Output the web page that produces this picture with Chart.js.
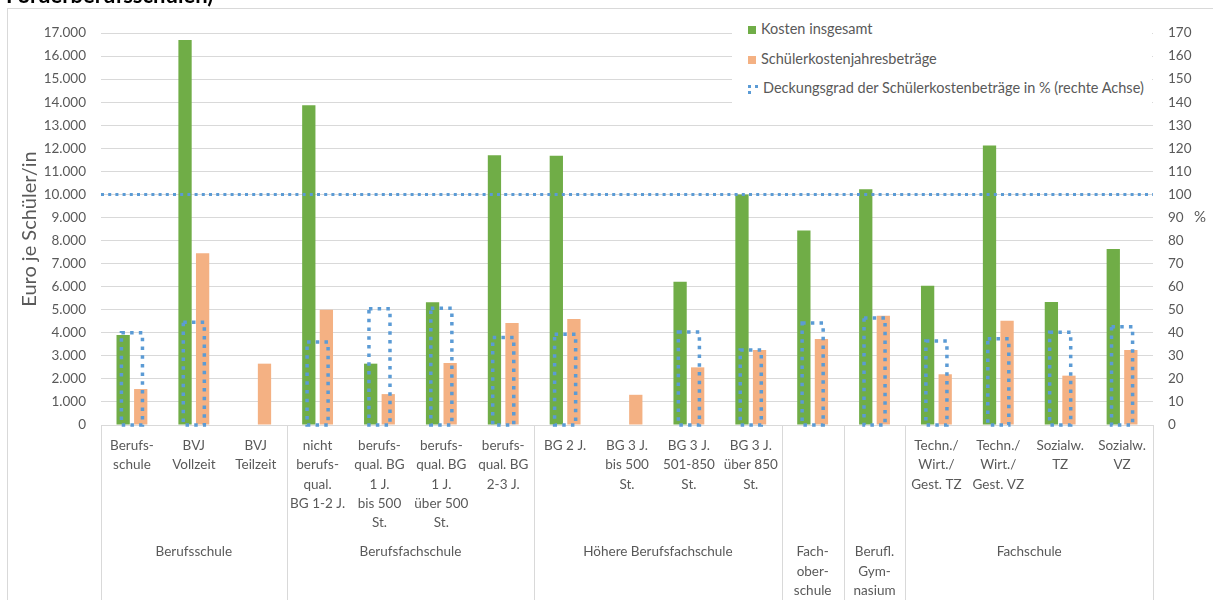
<!DOCTYPE html>
<html lang="de">
<head>
<meta charset="utf-8">
<title>Kosten je Schüler/in</title>
<script src="https://cdn.jsdelivr.net/npm/chart.js@4.4.1/dist/chart.umd.min.js"></script>
<style>
  html, body { margin: 0; padding: 0; background: #fff; overflow: hidden; }
  #wrap { position: relative; width: 1213px; height: 600px; overflow: hidden; }
  #frame { position: absolute; left: 7px; top: 8px; width: 1300px; height: 700px;
           border-left: 1px solid #d9d9d9; border-top: 1px solid #d9d9d9; }
  #chart { position: absolute; left: 0; top: 0; }
  #legend { position: absolute; left: 732px; top: 14px; width: 420px; height: 98px;
            background: #fff; font: 14.5px Lato, sans-serif; color: #595959; }
  .leg-row { position: absolute; left: 16px; height: 18px; line-height: 18px; white-space: nowrap; }
  .leg-box { display: inline-block; width: 8px; height: 8px; margin-right: 5px; vertical-align: 0; }
  .leg-dots { display: inline-block; width: 7px; height: 6px; margin-right: 5px;
              border-top: 3px dotted #5b9bd5; border-left: 3px dotted #5b9bd5; vertical-align: -1px; }
</style>
</head>
<body>
<div id="wrap">
  <div id="frame"></div>
  <canvas id="chart" width="1213" height="640"></canvas>
  <div id="legend">
    <div class="leg-row" style="top:6px"><span class="leg-box" style="background:#70ad47"></span>Kosten insgesamt</div>
    <div class="leg-row" style="top:36px"><span class="leg-box" style="background:#f4b183"></span>Schülerkostenjahresbeträge</div>
    <div class="leg-row" style="top:65px"><span class="leg-dots"></span>Deckungsgrad der Schülerkostenbeträge in % (rechte Achse)</div>
  </div>
</div>

<script>
// ── DATA ───────────────────────────────────────────────────────
const categories = [
  ['Berufs-', 'schule'], ['BVJ', 'Vollzeit'], ['BVJ', 'Teilzeit'],
  ['nicht', 'berufs-', 'qual.', 'BG 1-2 J.'],
  ['berufs-', 'qual. BG', '1 J.', 'bis 500', 'St.'],
  ['berufs-', 'qual. BG', '1 J.', 'über 500', 'St.'],
  ['berufs-', 'qual. BG', '2-3 J.'],
  ['BG 2 J.'], ['BG 3 J.', 'bis 500', 'St.'], ['BG 3 J.', '501-850', 'St.'], ['BG 3 J.', 'über 850', 'St.'],
  [''], [''],
  ['Techn./', 'Wirt./', 'Gest. TZ'], ['Techn./', 'Wirt./', 'Gest. VZ'], ['Sozialw.', 'TZ'], ['Sozialw.', 'VZ'],
];
const groupLabels = [
  ['Berufsschule'], ['Berufsfachschule'], ['Höhere Berufsfachschule'],
  ['Fach-', 'ober-', 'schule'], ['Berufl.', 'Gym-', 'nasium'], ['Fachschule'],
];
const groupSizes = [3, 4, 4, 1, 1, 4];

// Euro je Schüler/in
const kostenInsgesamt = [3900, 16700, null, 13870, 2660, 5320, 11700, 11680, null, 6210, 10000, 8430, 10220, 6040, 12120, 5330, 7630];
const schuelerkosten  = [1560, 7450, 2660, 5000, 1340, 2690, 4420, 4600, 1310, 2500, 3250, 3730, 4740, 2200, 4520, 2140, 3250];
// Prozent, rechte Achse
const deckungsgrad    = [40, 44.6, null, 36, 50.4, 50.6, 38, 39.4, null, 40.3, 32.5, 44.2, 46.4, 36.4, 37.4, 40.2, 42.6];
const referenzLinie   = 100;

const GREEN = '#70ad47', ORANGE = '#f4b183', BLUE = '#5b9bd5';
const TEXT = '#595959', GRID = '#d9d9d9';
const FONT = 'Lato';

// 17000 -> "17.000"
const fmtEuro = v => v >= 1000 ? Math.floor(v / 1000) + '.' + String(v % 1000).padStart(3, '0') : String(v);

// ── DECORATIONS: dotted outline bars, 100 % line, group axis ───
const decor = {
  id: 'decor',
  afterDatasetsDraw(chart) {
    const ctx = chart.ctx;
    const { left, right } = chart.chartArea;
    ctx.save();
    ctx.strokeStyle = BLUE;

    // Deckungsgrad as hollow dotted bars
    ctx.lineWidth = 3.5;
    ctx.setLineDash([3.5, 5.2]);
    chart.getDatasetMeta(2).data.forEach((bar, i) => {
      if (deckungsgrad[i] == null) return;
      const { x, y, base, width } = bar.getProps(['x', 'y', 'base', 'width'], true);
      ctx.strokeRect(x - width / 2, y, width, base - y);
    });

    // 100 % reference line on the right axis
    const yl = chart.scales.y1.getPixelForValue(referenzLinie);
    ctx.lineWidth = 3;
    ctx.setLineDash([3, 4.2]);
    ctx.beginPath();
    ctx.moveTo(left, yl);
    ctx.lineTo(right, yl);
    ctx.stroke();
    ctx.restore();
  },
  afterDraw(chart) {
    const ctx = chart.ctx;
    const xs = chart.scales.x;
    const { bottom } = chart.chartArea;
    const H = chart.height;

    ctx.save();
    // group separators
    const edge = i => i <= 0 ? xs.left
      : i >= categories.length ? xs.right
      : (xs.getPixelForValue(i - 1) + xs.getPixelForValue(i)) / 2;
    ctx.strokeStyle = GRID;
    ctx.lineWidth = 1;
    let start = 0;
    const bounds = [0];
    groupSizes.forEach(n => { start += n; bounds.push(start); });
    bounds.forEach(b => {
      const px = Math.round(edge(b)) + 0.5;
      ctx.beginPath();
      ctx.moveTo(px, bottom);
      ctx.lineTo(px, H);
      ctx.stroke();
    });

    // group labels
    ctx.fillStyle = TEXT;
    ctx.font = `13.5px ${FONT}`;
    ctx.textAlign = 'center';
    ctx.textBaseline = 'middle';
    groupLabels.forEach((lines, g) => {
      const cx = (edge(bounds[g]) + edge(bounds[g + 1])) / 2;
      lines.forEach((t, k) => ctx.fillText(t, cx, 552 + k * 19.5));
    });

    // unit of the right axis
    ctx.font = `15px ${FONT}`;
    ctx.fillText('%', 1200, chart.scales.y1.getPixelForValue(90));

    // heading line, clipped at the top edge
    ctx.fillStyle = '#000';
    ctx.font = `bold 22px ${FONT}`;
    ctx.textAlign = 'left';
    ctx.textBaseline = 'alphabetic';
    ctx.fillText('Förderberufsschulen)', 6, 3);
    ctx.restore();
  },
};

// ── CHART ──────────────────────────────────────────────────────
new Chart(document.getElementById('chart').getContext('2d'), {
  type: 'bar',
  data: {
    labels: categories,
    datasets: [
      {
        label: 'Kosten insgesamt',
        data: kostenInsgesamt,
        backgroundColor: GREEN,
        yAxisID: 'y',
        categoryPercentage: 0.568, barPercentage: 0.756,
      },
      {
        label: 'Schülerkostenjahresbeträge',
        data: schuelerkosten,
        backgroundColor: ORANGE,
        yAxisID: 'y',
        categoryPercentage: 0.568, barPercentage: 0.756,
      },
      {
        label: 'Deckungsgrad der Schülerkostenbeträge in % (rechte Achse)',
        data: deckungsgrad,
        backgroundColor: 'rgba(0,0,0,0)',
        borderWidth: 0,
        yAxisID: 'y1',
        grouped: false,
        barPercentage: 0.425,
      },
    ],
  },
  options: {
    responsive: false,
    devicePixelRatio: 1,
    animation: false,
    layout: { padding: { top: 33, left: 0, right: 0, bottom: 0 } },
    plugins: {
      legend: { display: false },
      tooltip: { enabled: false },
    },
    scales: {
      x: {
        grid: { display: false },
        border: { display: true, color: GRID },
        ticks: {
          autoSkip: false, maxRotation: 0, minRotation: 0,
          padding: 3,
          color: TEXT,
          font: { family: FONT, size: 13.5, lineHeight: '19.3px' },
        },
        afterFit: s => { s.height = 640 - 425; },
      },
      y: {
        position: 'left',
        min: 0, max: 17000,
        grid: { color: GRID, drawTicks: false },
        border: { display: false },
        ticks: {
          stepSize: 1000, padding: 15, color: TEXT,
          font: { family: FONT, size: 13.5 },
          callback: v => fmtEuro(v),
        },
        title: {
          display: true, text: 'Euro je Schüler/in', color: TEXT,
          font: { family: FONT, size: 20 },
          padding: { top: 18, bottom: 0 },
        },
        afterFit: s => { s.width = 101; },
      },
      y1: {
        position: 'right',
        min: 0, max: 170,
        grid: { display: false, drawTicks: false },
        border: { display: false },
        ticks: {
          stepSize: 10, padding: 15, color: TEXT,
          font: { family: FONT, size: 13.5 },
        },
        afterFit: s => { s.width = 60; },
      },
    },
  },
  plugins: [decor],
});
</script>
</body>
</html>
